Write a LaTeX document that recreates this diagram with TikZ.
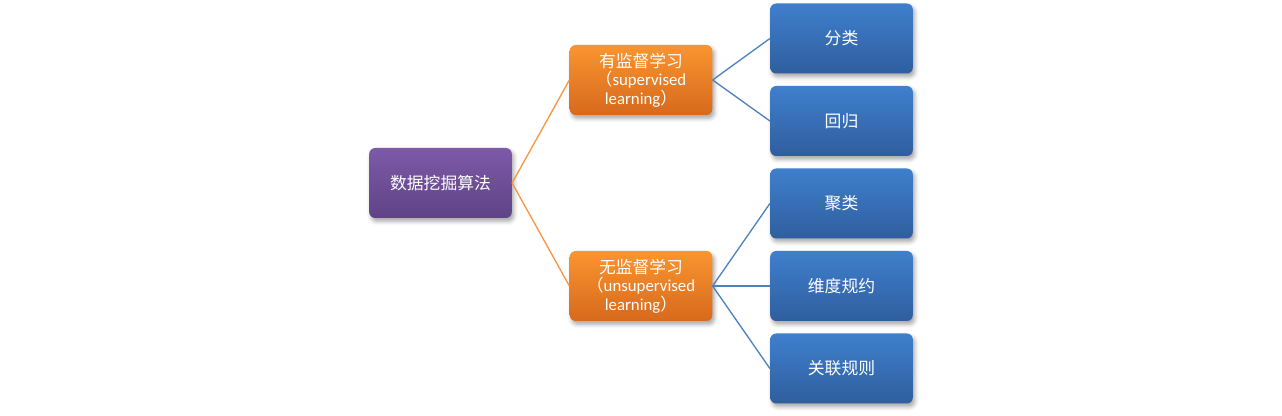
\documentclass[tikz,border=0pt]{standalone}
\usepackage{fontspec}
\setmainfont{Carlito}
\newfontfamily\cjk{Noto Sans CJK SC}
\usetikzlibrary{shadows.blur}
\definecolor{purT}{HTML}{7D5AA8}
\definecolor{purB}{HTML}{5F4386}
\definecolor{oraT}{HTML}{F99530}
\definecolor{oraB}{HTML}{D7691C}
\definecolor{bluT}{HTML}{3F7FCD}
\definecolor{bluB}{HTML}{2F5E9E}
\definecolor{oline}{HTML}{F79646}
\definecolor{bline}{HTML}{4F81BD}
\tikzset{
  box/.style={rounded corners=4.5pt, minimum width=107pt, minimum height=52.5pt,
    text=white, align=center, inner sep=1pt, font=\fontsize{12.6pt}{15pt}\selectfont,
    blur shadow={shadow xshift=1.5pt, shadow yshift=-2.5pt, shadow blur radius=3pt, shadow opacity=35}},
  pur/.style={box, top color=purT, bottom color=purB},
  ora/.style={box, top color=oraT, bottom color=oraB},
  blu/.style={box, top color=bluT, bottom color=bluB},
  ol/.style={oline, line width=1pt},
  bl/.style={bline, line width=1pt}
}
\begin{document}
\begin{tikzpicture}[x=0.75pt, y=-0.75pt]
\useasboundingbox (0,0) rectangle (1282,416);
\node[pur] (root) at (440.5,183) {\cjk 数据挖掘算法};
\node[ora] (sup) at (641,80) {\cjk 有监督学习\\[-1pt]{\cjk （}supervised\\[-1pt]learning{\cjk ）}};
\node[ora] (uns) at (641,286) {\cjk 无监督学习\\[-1pt]{\cjk （}unsupervised\\[-1pt]learning{\cjk ）}};
\node[blu] (c1) at (841.5,38.5) {\cjk 分类};
\node[blu] (c2) at (841.5,121) {\cjk 回归};
\node[blu] (c3) at (841.5,203.5) {\cjk 聚类};
\node[blu] (c4) at (841.5,286) {\cjk 维度规约};
\node[blu] (c5) at (841.5,368.5) {\cjk 关联规则};
\draw[ol] (root.east) -- (sup.west);
\draw[ol] (root.east) -- (uns.west);
\draw[bl] (sup.east) -- (c1.west);
\draw[bl] (sup.east) -- (c2.west);
\draw[bl] (uns.east) -- (c3.west);
\draw[bl] (uns.east) -- (c4.west);
\draw[bl] (uns.east) -- (c5.west);
\end{tikzpicture}
\end{document}
